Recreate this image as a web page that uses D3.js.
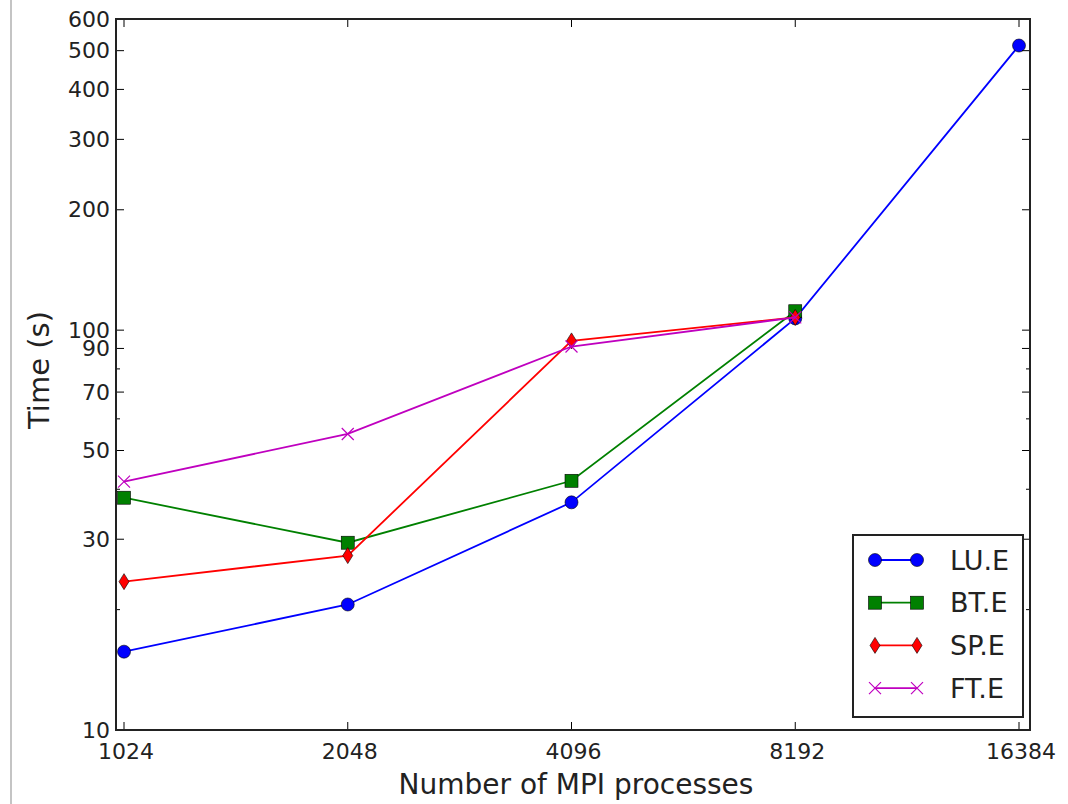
<!DOCTYPE html>
<html>
<head>
<meta charset="utf-8">
<script src="https://cdn.jsdelivr.net/npm/d3@7"></script>
<style>
  body { margin: 0; background: #fff; }
  svg { display: block; font-family: "DejaVu Sans", sans-serif; }
</style>
</head>
<body>
<div id="chart"></div>
<script>
// processes on the x axis
var procs = [1024, 2048, 4096, 8192, 16384];
// timings in seconds
var luE = [15.7, 20.6, 37.1, 107, 515];
var btE = [38.1, 29.4, 42.0, 111.5];
var spE = [23.5, 27.3, 94.0, 107.6];
var ftE = [41.8, 55.0, 91.0, 107.6];
var yMajor = [10, 30, 50, 70, 90, 100, 200, 300, 400, 500, 600];
var yMinor = [20, 40, 60, 80];

var W = 1068, H = 804;
var frame = {left: 116, right: 1030, top: 19, bottom: 730};

var svg = d3.select('#chart').append('svg')
    .attr('width', W).attr('height', H);

svg.append('rect').attr('width', W).attr('height', H).attr('fill', '#fff');
// window edge seen in the screenshot
svg.append('rect').attr('x', 10).attr('y', 0).attr('width', 2).attr('height', H).attr('fill', '#c4c4c4');

var x = d3.scaleLog().base(2)
    .domain([Math.pow(2, 10 - 8/223.75), Math.pow(2, 14 + 11/223.75)])
    .range([frame.left, frame.right]);
var y = d3.scaleLog()
    .domain([10, 600])
    .range([frame.bottom, frame.top]);

var series = [
  {name: 'LU.E', values: luE, color: '#0000ff', marker: 'circle'},
  {name: 'BT.E', values: btE, color: '#008000', marker: 'square'},
  {name: 'SP.E', values: spE, color: '#ff0000', marker: 'diamond'},
  {name: 'FT.E', values: ftE, color: '#bf00bf', marker: 'x'}
];

var line = d3.line()
    .x(function(d) { return x(d.p); })
    .y(function(d) { return y(d.v); });

function drawMarker(g, kind, color) {
  if (kind === 'circle') {
    g.append('circle').attr('r', 6.5).attr('fill', color).attr('stroke', '#000').attr('stroke-width', 0.6);
  } else if (kind === 'square') {
    g.append('rect').attr('x', -6.5).attr('y', -6.5).attr('width', 13).attr('height', 13)
      .attr('fill', color).attr('stroke', '#000').attr('stroke-width', 0.6);
  } else if (kind === 'diamond') {
    g.append('path').attr('d', 'M0,-8L5,0L0,8L-5,0Z')
      .attr('fill', color).attr('stroke', '#000').attr('stroke-width', 0.6);
  } else {
    g.append('path').attr('d', 'M-6,-6L6,6M-6,6L6,-6')
      .attr('fill', 'none').attr('stroke', color).attr('stroke-width', 1.2);
  }
}

var plot = svg.append('g');

series.forEach(function(s) {
  var pts = s.values.map(function(v, i) { return {p: procs[i], v: v}; });
  var g = plot.append('g');
  g.append('path')
    .attr('d', line(pts))
    .attr('fill', 'none')
    .attr('stroke', s.color)
    .attr('stroke-width', 1.8);
  pts.forEach(function(d) {
    var m = g.append('g').attr('transform', 'translate(' + x(d.p) + ',' + y(d.v) + ')');
    drawMarker(m, s.marker, s.color);
  });
});

// ticks, inward on all four sides
var ticks = svg.append('g').attr('stroke', '#000').attr('stroke-width', 1);
procs.forEach(function(p) {
  ticks.append('line').attr('x1', x(p)).attr('x2', x(p)).attr('y1', frame.bottom).attr('y2', frame.bottom - 8);
  ticks.append('line').attr('x1', x(p)).attr('x2', x(p)).attr('y1', frame.top).attr('y2', frame.top + 8);
});
yMajor.forEach(function(v) {
  ticks.append('line').attr('x1', frame.left).attr('x2', frame.left + 8).attr('y1', y(v)).attr('y2', y(v));
  ticks.append('line').attr('x1', frame.right).attr('x2', frame.right - 8).attr('y1', y(v)).attr('y2', y(v));
});
yMinor.forEach(function(v) {
  ticks.append('line').attr('x1', frame.left).attr('x2', frame.left + 4).attr('y1', y(v)).attr('y2', y(v));
  ticks.append('line').attr('x1', frame.right).attr('x2', frame.right - 4).attr('y1', y(v)).attr('y2', y(v));
});

svg.append('rect')
  .attr('x', frame.left).attr('y', frame.top)
  .attr('width', frame.right - frame.left).attr('height', frame.bottom - frame.top)
  .attr('fill', 'none').attr('stroke', '#222').attr('stroke-width', 2);

// tick labels
svg.append('g').selectAll('text').data(yMajor).enter().append('text')
  .attr('x', frame.left - 6).attr('y', function(d) { return y(d); })
  .attr('text-anchor', 'end').attr('dominant-baseline', 'central')
  .attr('font-size', 22).attr('fill', '#222')
  .text(function(d) { return d; });

svg.append('g').selectAll('text').data(procs).enter().append('text')
  .attr('x', function(d) { return x(d) + 2; }).attr('y', frame.bottom + 21)
  .attr('text-anchor', 'middle').attr('dominant-baseline', 'central')
  .attr('font-size', 22).attr('fill', '#222')
  .text(function(d) { return d; });

// axis titles
svg.append('text')
  .attr('x', 576).attr('y', 794)
  .attr('text-anchor', 'middle').attr('font-size', 28).attr('fill', '#222')
  .text('Number of MPI processes');

svg.append('text')
  .attr('transform', 'translate(49,370) rotate(-90)')
  .attr('text-anchor', 'middle').attr('font-size', 29).attr('fill', '#222')
  .text('Time (s)');

// legend
var lg = svg.append('g');
lg.append('rect').attr('x', 853).attr('y', 535).attr('width', 170).attr('height', 182)
  .attr('fill', '#fff').attr('stroke', '#222').attr('stroke-width', 2);
series.forEach(function(s, i) {
  var ly = 560 + i * 42.7;
  lg.append('line').attr('x1', 875).attr('x2', 917).attr('y1', ly).attr('y2', ly)
    .attr('stroke', s.color).attr('stroke-width', 1.8);
  [875, 917].forEach(function(mx) {
    drawMarker(lg.append('g').attr('transform', 'translate(' + mx + ',' + ly + ')'), s.marker, s.color);
  });
  lg.append('text').attr('x', 950).attr('y', ly).attr('dominant-baseline', 'central')
    .attr('font-size', 27).attr('fill', '#222').text(s.name);
});
</script>
</body>
</html>
